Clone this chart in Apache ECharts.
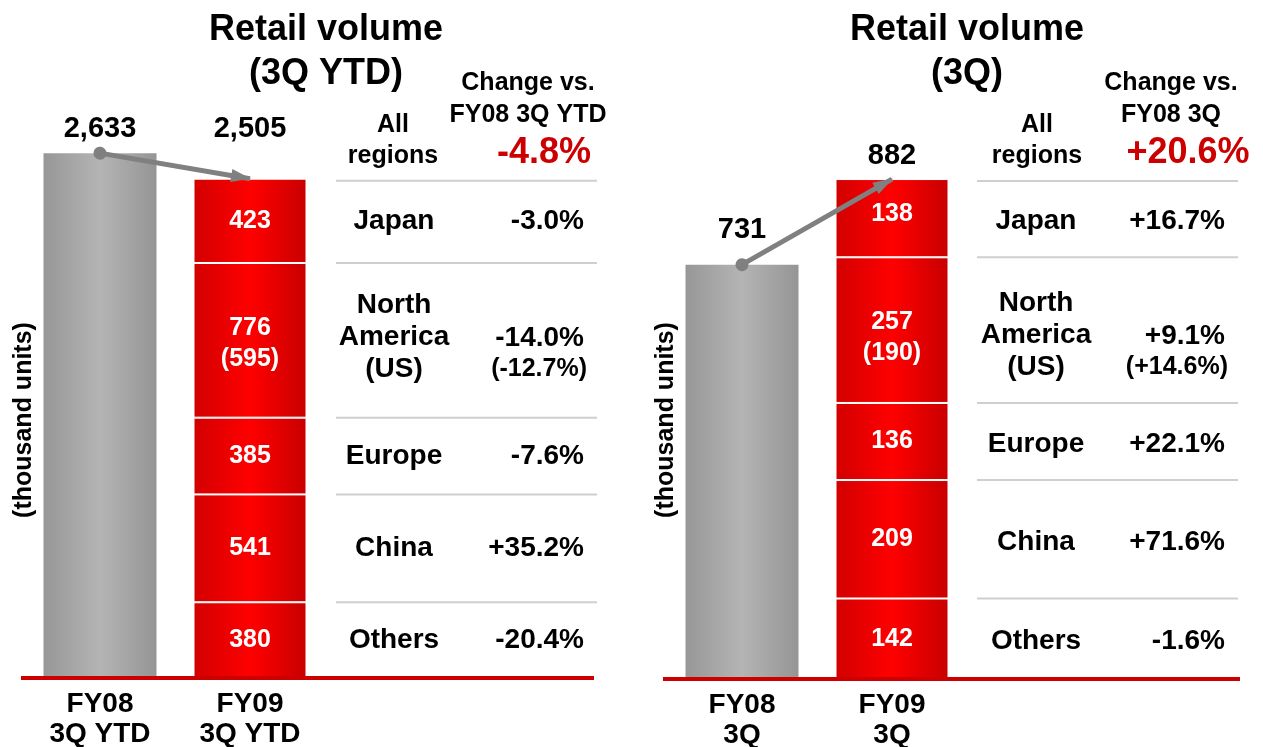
<!DOCTYPE html>
<html>
<head>
<meta charset="utf-8">
<script src="https://cdn.jsdelivr.net/npm/echarts@6/dist/echarts.min.js"></script>
<style>
html, body { margin: 0; background: #fff; }
#main { width: 1263px; height: 747px; }
</style>
</head>
<body>
<div id="main"></div>
<script>
// regions, top to bottom as in the table
var regions = ['Japan', 'North\nAmerica\n(US)', 'Europe', 'China', 'Others'];

// left panel: 3Q YTD
var ytdCategories = ['FY08\n3Q YTD', 'FY09\n3Q YTD'];
var ytdPrev = 2633;
var ytdTotal = 2505;
var ytdByRegion = [423, 776, 385, 541, 380];
var ytdUS = 595;
var ytdChange = ['-3.0%', '-14.0%', '-7.6%', '+35.2%', '-20.4%'];
var ytdUSChange = '(-12.7%)';
var ytdAllChange = '-4.8%';

// right panel: 3Q
var qCategories = ['FY08\n3Q', 'FY09\n3Q'];
var qPrev = 731;
var qTotal = 882;
var qByRegion = [138, 257, 136, 209, 142];
var qUS = 190;
var qChange = ['+16.7%', '+9.1%', '+22.1%', '+71.6%', '-1.6%'];
var qUSChange = '(+14.6%)';
var qAllChange = '+20.6%';

var FONT = 'Liberation Sans, Arial, Helvetica, sans-serif';
var chart = echarts.init(document.getElementById('main'));

var grayFill = new echarts.graphic.LinearGradient(0, 0, 1, 0, [
    {offset: 0, color: '#979797'},
    {offset: 0.5, color: '#b4b4b4'},
    {offset: 1, color: '#959595'}
]);
var redFill = new echarts.graphic.LinearGradient(0, 0, 1, 0, [
    {offset: 0, color: '#d20000'},
    {offset: 0.5, color: '#ff0000'},
    {offset: 1, color: '#c80000'}
]);

var panels = [
    {cats: ytdCategories, prev: ytdPrev, total: ytdTotal, parts: ytdByRegion, us: ytdUS,
     change: ytdChange, usChange: ytdUSChange, all: ytdAllChange,
     prevDist: 10, totalOffset: -50, naShift: -3},
    {cats: qCategories, prev: qPrev, total: qTotal, parts: qByRegion, us: qUS,
     change: qChange, usChange: qUSChange, all: qAllChange,
     prevDist: 20, totalOffset: -23, naShift: 2}
];

var fmt = function (v) { return v.toLocaleString('en-US'); };

var series = [];
panels.forEach(function (p, i) {
    series.push({
        name: p.cats[0], type: 'bar', stack: 's' + i,
        xAxisIndex: i, yAxisIndex: i, barWidth: 113,
        itemStyle: {color: grayFill},
        label: {show: true, position: 'top', distance: p.prevDist,
            fontFamily: FONT, fontWeight: 'bold', fontSize: 29, color: '#000',
            formatter: function (d) { return fmt(d.value); }},
        data: [p.prev, '-']
    });
    // bottom of the stack first
    for (var r = regions.length - 1; r >= 0; r--) {
        var s = {
            name: regions[r], type: 'bar', stack: 's' + i,
            xAxisIndex: i, yAxisIndex: i, barWidth: 113,
            itemStyle: {color: redFill, borderColor: '#fff', borderWidth: 1},
            label: {show: true, position: 'inside', fontFamily: FONT, fontWeight: 'bold',
                fontSize: 25, lineHeight: 31, color: '#fff',
                offset: [0, r === 1 ? (i === 0 ? 3 : 7) : (r === 0 && i === 1 ? -4 : 0)],
                formatter: (function (us, isUS) {
                    return function (d) { return isUS ? d.value + '\n(' + us + ')' : '' + d.value; };
                })(p.us, r === 1)},
            data: ['-', p.parts[r]]
        };
        if (r === 0) {
            s.markPoint = {
                symbolSize: 0, silent: true,
                label: {show: true, offset: [0, p.totalOffset], fontFamily: FONT,
                    fontWeight: 'bold', fontSize: 29, color: '#000',
                    formatter: function (d) { return fmt(d.value); }},
                data: [{coord: [p.cats[1], p.total], value: p.total}]
            };
            s.markLine = {
                silent: true, animation: false,
                symbol: ['circle', 'triangle'], symbolSize: [13, 20],
                symbolOffset: [0, [0, 9]],
                lineStyle: {color: '#808080', width: 5, type: 'solid', opacity: 1},
                itemStyle: {color: '#808080'},
                label: {show: false},
                data: [[{coord: [p.cats[0], p.prev]}, {coord: [p.cats[1], p.total]}]]
            };
        }
        series.push(s);
    }
});

var option = {
    animation: false,
    grid: [
        {left: 25, width: 300, top: 80, height: 598, outerBoundsMode: 'none', containLabel: false},
        {left: 667, width: 300, top: 81, height: 598, outerBoundsMode: 'none', containLabel: false}
    ],
    xAxis: [0, 1].map(function (i) {
        return {
            type: 'category', gridIndex: i, data: panels[i].cats,
            axisLine: {show: false}, axisTick: {show: false},
            axisLabel: {margin: 11, fontFamily: FONT, fontWeight: 'bold', fontSize: 28,
                lineHeight: 30, color: '#000'}
        };
    }),
    yAxis: [
        {type: 'value', gridIndex: 0, min: 0, max: 3000, show: false},
        {type: 'value', gridIndex: 1, min: 0, max: 1055, show: false}
    ],
    series: series
};
chart.setOption(option);

// table, headings and baselines placed from the axes
var cols = [
    {region: 394, pct: 584, sepL: 336, sepR: 597, base: [21, 594], axisX: 24, head: 528, allX: 393, allPct: 544, title: 326,
     titleText: 'Retail volume\n(3Q YTD)', headText: 'Change vs.\nFY08 3Q YTD'},
    {region: 1036, pct: 1225, sepL: 977, sepR: 1238, base: [663, 1240], axisX: 666, head: 1171, allX: 1037, allPct: 1188, title: 967,
     titleText: 'Retail volume\n(3Q)', headText: 'Change vs.\nFY08 3Q'}
];

var graphic = [];
var txt = function (x, y, text, size, extra) {
    var style = {text: text, x: 0, y: 0, fill: '#000', font: 'bold ' + size + 'px ' + FONT,
        textAlign: 'center', textVerticalAlign: 'middle'};
    for (var k in extra) style[k] = extra[k];
    return {type: 'text', x: x, y: y, style: style, z: 100};
};
panels.forEach(function (p, i) {
    var c = cols[i];
    var px = function (v) { return chart.convertToPixel({gridIndex: i}, [p.cats[1], v])[1]; };
    var zero = px(0);
    graphic.push({type: 'line', z: 50,
        shape: {x1: c.base[0], y1: zero, x2: c.base[1], y2: zero},
        style: {stroke: '#cc0000', lineWidth: 4}});
    graphic.push(txt(c.title, 28, c.titleText, 36, {lineHeight: 44, textVerticalAlign: 'top', y: -20}));
    graphic.push(txt(c.head, 81, c.headText, 25, {lineHeight: 32, textVerticalAlign: 'top', y: -14}));
    graphic.push(txt(c.allX, 124, 'All\nregions', 25, {lineHeight: 31, textVerticalAlign: 'top', y: -14}));
    graphic.push(txt(c.allPct, 153, p.all, 36, {fill: '#cc0000'}));
    var r90 = txt(c.axisX, 420, '(thousand units)', 25, {});
    r90.rotation = Math.PI / 2;
    graphic.push(r90);

    var top = p.total;
    graphic.push({type: 'line', shape: {x1: c.sepL, y1: px(top) + 2, x2: c.sepR, y2: px(top) + 2},
        style: {stroke: '#cfcfcf', lineWidth: 2}});
    p.parts.forEach(function (v, r) {
        var bottom = top - v;
        var mid = (px(top) + px(bottom)) / 2 + (i === 1 ? 3 : 0);
        if (r < p.parts.length - 1) {
            graphic.push({type: 'line', shape: {x1: c.sepL, y1: px(bottom), x2: c.sepR, y2: px(bottom)},
                style: {stroke: '#cfcfcf', lineWidth: 2}});
        }
        var shift = r === 1 ? p.naShift : 0;
        graphic.push(txt(c.region, mid + shift, regions[r], 28, {lineHeight: 32}));
        graphic.push(txt(c.pct, mid + (r === 1 ? shift + 1 : 0), p.change[r], 28, {textAlign: 'right'}));
        if (r === 1) {
            graphic.push(txt(c.pct + 3, mid + shift + 32, p.usChange, 25, {textAlign: 'right'}));
        }
        top = bottom;
    });
});
chart.setOption({graphic: graphic});
</script>
</body>
</html>
